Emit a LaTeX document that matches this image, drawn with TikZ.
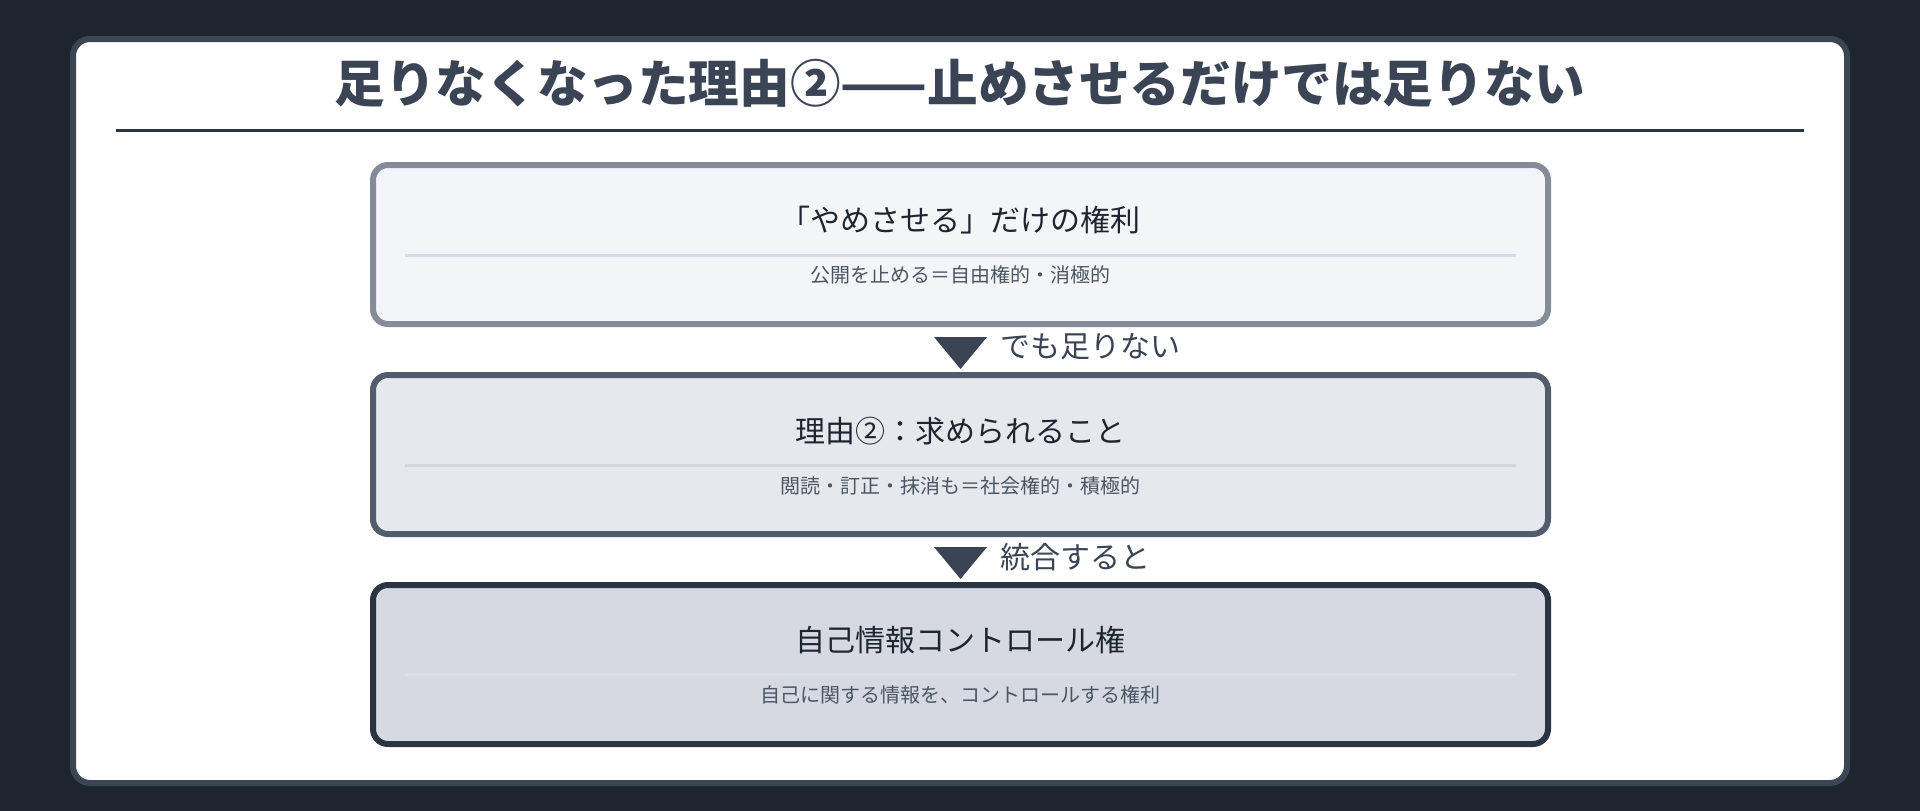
\documentclass[tikz,border=0pt]{standalone}
\usepackage{fontspec}
\setmainfont{Noto Sans CJK JP}
\usetikzlibrary{calc}
\definecolor{bgc}{HTML}{1E252F}
\definecolor{cardline}{HTML}{3B4554}
\definecolor{titlec}{HTML}{3A4454}
\definecolor{rulec}{HTML}{2B3240}
\definecolor{fillA}{HTML}{F4F5F7}
\definecolor{lineA}{HTML}{848C9A}
\definecolor{fillB}{HTML}{E5E8ED}
\definecolor{lineB}{HTML}{525C6C}
\definecolor{fillC}{HTML}{D5DAE2}
\definecolor{lineC}{HTML}{2B3442}
\definecolor{sepA}{HTML}{D9DCDF}
\definecolor{sepB}{HTML}{D3D6DA}
\definecolor{sepC}{HTML}{DCDFE4}
\definecolor{boxtext}{HTML}{1F2530}
\definecolor{subtext}{HTML}{4B5563}
\tikzset{
  card/.style={draw=cardline, fill=white, line width=6pt, rounded corners=17pt,
    minimum width=1774pt, minimum height=744pt, inner sep=0pt},
  stagebox/.style={line width=6pt, rounded corners=15pt,
    minimum width=1175pt, minimum height=159pt, inner sep=0pt},
  boxtitle/.style={text=boxtext, font=\fontsize{30}{36}\selectfont, inner sep=0pt},
  boxsub/.style={text=subtext, font=\fontsize{20}{24}\selectfont, inner sep=0pt},
  seprule/.style={line width=3pt},
  tri/.style={fill=titlec},
  lab/.style={text=titlec, font=\fontsize{30}{36}\selectfont, inner sep=0pt, anchor=west},
}
\begin{document}
\begin{tikzpicture}[x=1pt,y=-1pt]
\useasboundingbox (0,0) rectangle (1920,811);
\fill[bgc] (0,0) rectangle (1920,811);
\node[card] (card) at (960,411) {};
\node[text=titlec, font=\fontsize{50.6}{60}\selectfont\bfseries, inner sep=0pt] (title) at (960,83) {足りなくなった理由②——止めさせるだけでは足りない};
\coordinate (rl) at (116,130.5);
\coordinate (rr) at (1804,130.5);
\draw[rulec, line width=3pt] (rl) -- (rr);

\node[stagebox, draw=lineA, fill=fillA] (b1) at (960.5,244.5) {};
\node[stagebox, draw=lineB, fill=fillB] (b2) at (960.5,454.5) {};
\node[stagebox, draw=lineC, fill=fillC] (b3) at (960.5,664.5) {};

\node[boxtitle] (t1) at ($(b1.north)+(0,58)$) {「やめさせる」だけの権利};
\draw[seprule, sepA] ($(b1.north west)+(35,93)$) -- ($(b1.north east)+(-35,93)$);
\node[boxsub] (s1) at ($(b1.north)+(0,113)$) {公開を止める＝自由権的・消極的};

\node[boxtitle] (t2) at ($(b2.north)+(0,59)$) {理由②：求められること};
\draw[seprule, sepB] ($(b2.north west)+(35,93)$) -- ($(b2.north east)+(-35,93)$);
\node[boxsub] (s2) at ($(b2.north)+(0,114)$) {閲読・訂正・抹消も＝社会権的・積極的};

\node[boxtitle] (t3) at ($(b3.north)+(0,58)$) {自己情報コントロール権};
\draw[seprule, sepC] ($(b3.north west)+(35,92)$) -- ($(b3.north east)+(-35,92)$);
\node[boxsub] (s3) at ($(b3.north)+(0,113)$) {自己に関する情報を、コントロールする権利};

\fill[tri] ($(b1.south)+(-26.5,10)$) -- ($(b1.south)+(26.5,10)$) -- ($(b1.south)+(0,42)$) -- cycle;
\node[lab] (l1) at ($(b1.south)+(40,20)$) {でも足りない};
\fill[tri] ($(b2.south)+(-26.5,10)$) -- ($(b2.south)+(26.5,10)$) -- ($(b2.south)+(0,42)$) -- cycle;
\node[lab] (l2) at ($(b2.south)+(40,20)$) {統合すると};
\end{tikzpicture}
\end{document}
